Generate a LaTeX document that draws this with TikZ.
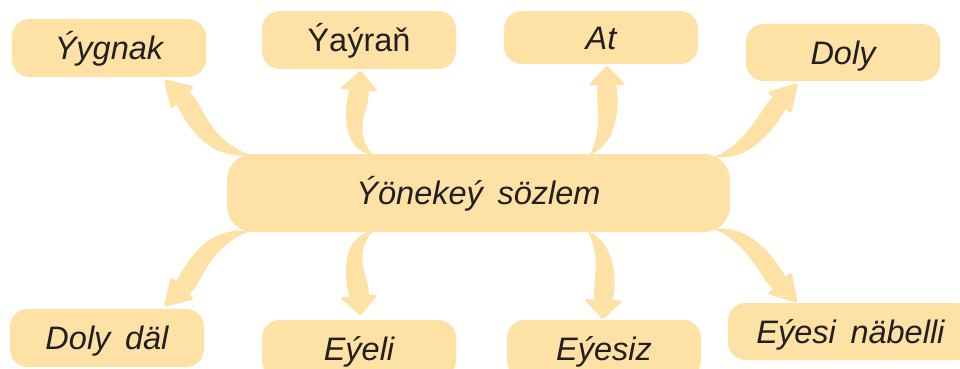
\documentclass[tikz,border=0pt]{standalone}
\usepackage{fontspec}
\setmainfont{Liberation Sans}
\usetikzlibrary{calc}
\definecolor{boxfill}{RGB}{253,225,165}
\definecolor{ink}{RGB}{35,31,32}
\tikzset{
  lbl/.style={rectangle, fill=boxfill, rounded corners=18pt, minimum width=194pt,
    minimum height=58pt, inner sep=0pt, text=ink,
    font=\fontsize{32.5}{38}\selectfont\itshape, text height=23pt, text depth=0pt},
  arrowfill/.style={fill=boxfill}
}
\newcommand\crescent[7]{%
  \coordinate (p0) at #1; \coordinate (q1) at #2; \coordinate (q2) at #3; \coordinate (p3) at #4;
  \pgfmathsetmacro\wa{1.25*#5}\pgfmathsetmacro\wb{1.4*#5}
  \coordinate (q1l) at ($(q1)!\wa pt!-90:(p0)$);
  \coordinate (q1r) at ($(q1)!\wa pt!90:(p0)$);
  \coordinate (q2l) at ($(q2)!\wb pt!90:(p3)$);
  \coordinate (q2r) at ($(q2)!\wb pt!-90:(p3)$);
  \coordinate (p3l) at ($(p3)!#5pt!-90:(q2)$);
  \coordinate (p3r) at ($(p3)!#5pt!90:(q2)$);
  \coordinate (hl) at ($(p3)!#6pt!-90:(q2)$);
  \coordinate (hr) at ($(p3)!#6pt!90:(q2)$);
  \coordinate (tp) at ($(p3)!-#7pt!(q2)$);
  \fill[arrowfill] (p0) .. controls (q1l) and (q2l) .. (p3l)
     [rounded corners=3pt] -- (hl) -- (tp) -- (hr) [sharp corners] -- (p3r)
     .. controls (q2r) and (q1r) .. (p0) -- cycle;
}
\begin{document}
\begin{tikzpicture}[x=1pt,y=-1pt]
\useasboundingbox (0,0) rectangle (960,369);
\clip (0,0) rectangle (960,369);
% nodes
\node[lbl] (ygnak) at (109,48) {Ýygnak};
\node[lbl, font=\fontsize{32.5}{38}\selectfont] (yayran) at (359,40) {Ýaýraň};
\node[lbl, minimum height=53pt] (at) at (601,37.5) {At};
\node[lbl, minimum height=57pt] (doly) at (843,52.5) {Doly};
\node[lbl, minimum width=503pt, minimum height=78pt, rounded corners=26pt] (c) at (478.5,193) {Ýönekeý\hspace{0.45em}sözlem};
\node[lbl] (dolydal) at (107,338) {Doly\hspace{0.45em}däl};
\node[lbl] (eyeli) at (359,349) {Eýeli};
\node[lbl] (eyesiz) at (604,349) {Eýesiz};
\node[lbl, minimum width=245pt, minimum height=57pt] (nabelli) at (850.5,331.5) {Eýesi\hspace{0.45em}näbelli};
% connectors
\crescent{($(c.north west)+(23,1)$)}{(205,150)}{(193,108.7)}{($(ygnak.south east)+(-23.5,21)$)}{9}{16.5}{27}
\crescent{($(c.north west)+(146,1)$)}{(345,140)}{(358,105)}{($(yayran.south)+(0,21)$)}{9.5}{19.5}{20}
\crescent{($(c.north west)+(363,1)$)}{(612,135)}{(607,100)}{($(at.south)+(6,21)$)}{9}{19}{20}
\crescent{($(c.north east)+(-16,3)$)}{(752,152)}{(769.5,114)}{($(doly.south west)+(33.5,22)$)}{8.5}{16.5}{27.6}
\crescent{($(c.south west)+(23,-1)$)}{(205,236)}{(193,277.3)}{($(dolydal.north east)+(-21.5,-21)$)}{9}{16.5}{27}
\crescent{($(c.south west)+(146,-1)$)}{(345,246)}{(358,281)}{($(eyeli.north)+(0,-24)$)}{9.5}{19.5}{20}
\crescent{($(c.south west)+(361,-1)$)}{(610,251)}{(604,286)}{($(eyesiz.north)+(-0.5,-20)$)}{9}{19.5}{20}
\crescent{($(c.south east)+(-16,-3)$)}{(752,234)}{(769.5,272)}{($(nabelli.north west)+(51.5,-20)$)}{8.5}{16.5}{27.6}
\end{tikzpicture}
\end{document}
